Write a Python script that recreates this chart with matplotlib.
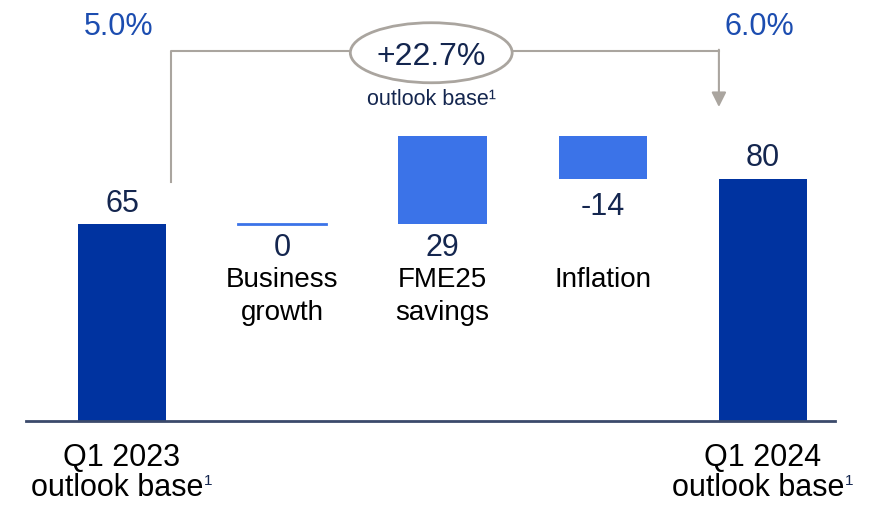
import numpy as np
import matplotlib.pyplot as plt
from matplotlib.patches import Ellipse

plt.rcParams['font.family'] = ['Liberation Sans', 'DejaVu Sans']

# données du pont
start_val = 65
end_val = 80
step_names = [["Business", "growth"], ["FME25", "savings"], ["Inflation"]]
step_vals = [0, 29, -14]
end_labels = [["Q1 2023", "outlook base"], ["Q1 2024", "outlook base"]]
margins = ["5.0%", "6.0%"]
growth_txt = "+22.7%"

dark = "#0033a0"
light = "#3b73e8"
navy = "#14264f"
pct_col = "#1c4db0"
grey = "#aaa59f"

fig = plt.figure(figsize=(8.79, 5.09), dpi=100)
ax = fig.add_axes([0, 0, 1, 1])
ax.set_xlim(-0.761, 4.724)
ax.set_ylim(-29.0, 138.9)
ax.axis("off")

w = 0.55
# barres totales
ax.bar([0, 4], [start_val, end_val], width=w, color=dark)

# barres intermédiaires
prev = start_val
for i, d in enumerate(step_vals):
    x = i + 1
    new = prev + d
    if d == 0:
        ax.plot([x - w / 2, x + w / 2], [prev, prev], color=light, lw=2)
    else:
        ax.bar(x, abs(d), bottom=min(prev, new), width=w, color=light)
    # étiquette de valeur
    if d >= 0:
        ax.text(x, start_val - 10.4, f"{d}", ha="center", va="baseline",
                fontsize=22, color=navy)
    else:
        ax.text(x, new - 12.0, f"{d}", ha="center", va="baseline",
                fontsize=22, color=navy)
    for k, line in enumerate(step_names[i]):
        ax.text(x, 44.3 - 10.8 * k, line, ha="center", va="baseline",
                fontsize=20, color="black")
    prev = new

# valeurs des totaux
ax.text(0, start_val + 4.1, f"{start_val}", ha="center", va="baseline",
        fontsize=22, color=navy)
ax.text(4, end_val + 4.3, f"{end_val}", ha="center", va="baseline",
        fontsize=22, color=navy)

# libellés du bas (avec renvoi ¹ en bleu)
for x, lab in zip([0, 4], end_labels):
    ax.text(x, -14.8, lab[0], ha="center", va="baseline", fontsize=22,
            color="black")
    t2 = ax.text(x - 0.03, -24.7, lab[1], ha="center", va="baseline",
                 fontsize=22, color="black")
    ax.annotate("1", xy=(1.0, 0.95), xycoords=t2, ha="left", va="top",
                fontsize=11, color=navy, xytext=(0.5, 0),
                textcoords="offset points")

# marges en haut
for x, m in zip([0, 4], margins):
    ax.text(x - 0.02, 127.5, m, ha="center", va="baseline", fontsize=22,
            color=pct_col)

# axe horizontal
ax.plot([-0.6, 4.45], [0, 0], color="#3b4a6b", lw=2)

# connecteur + ellipse
yl = 122.2
ex, ew = 1.93, 1.01
ax.plot([w / 2 + 0.03, w / 2 + 0.03, ex - ew / 2], [79, yl, yl],
        color=grey, lw=1.5)
ax.plot([ex + ew / 2, 4 - w / 2], [yl, yl], color=grey, lw=1.5)
ax.annotate("", xy=(4 - w / 2, 103.6), xytext=(4 - w / 2, yl + 0.3),
            arrowprops=dict(arrowstyle="-|>", color=grey, lw=1.5,
                            mutation_scale=22, shrinkA=0, shrinkB=0))
ax.add_patch(Ellipse((ex, 121.5), ew, 19.8, facecolor="white",
                     edgecolor=grey, lw=2, zorder=3))
ax.text(ex, 117.3, growth_txt, ha="center", va="baseline", fontsize=23,
        color=navy, zorder=4)
ax.text(ex, 104.3, "outlook base¹", ha="center", va="baseline",
        fontsize=15.5, color=navy)

fig.savefig("out.png", dpi=100)
